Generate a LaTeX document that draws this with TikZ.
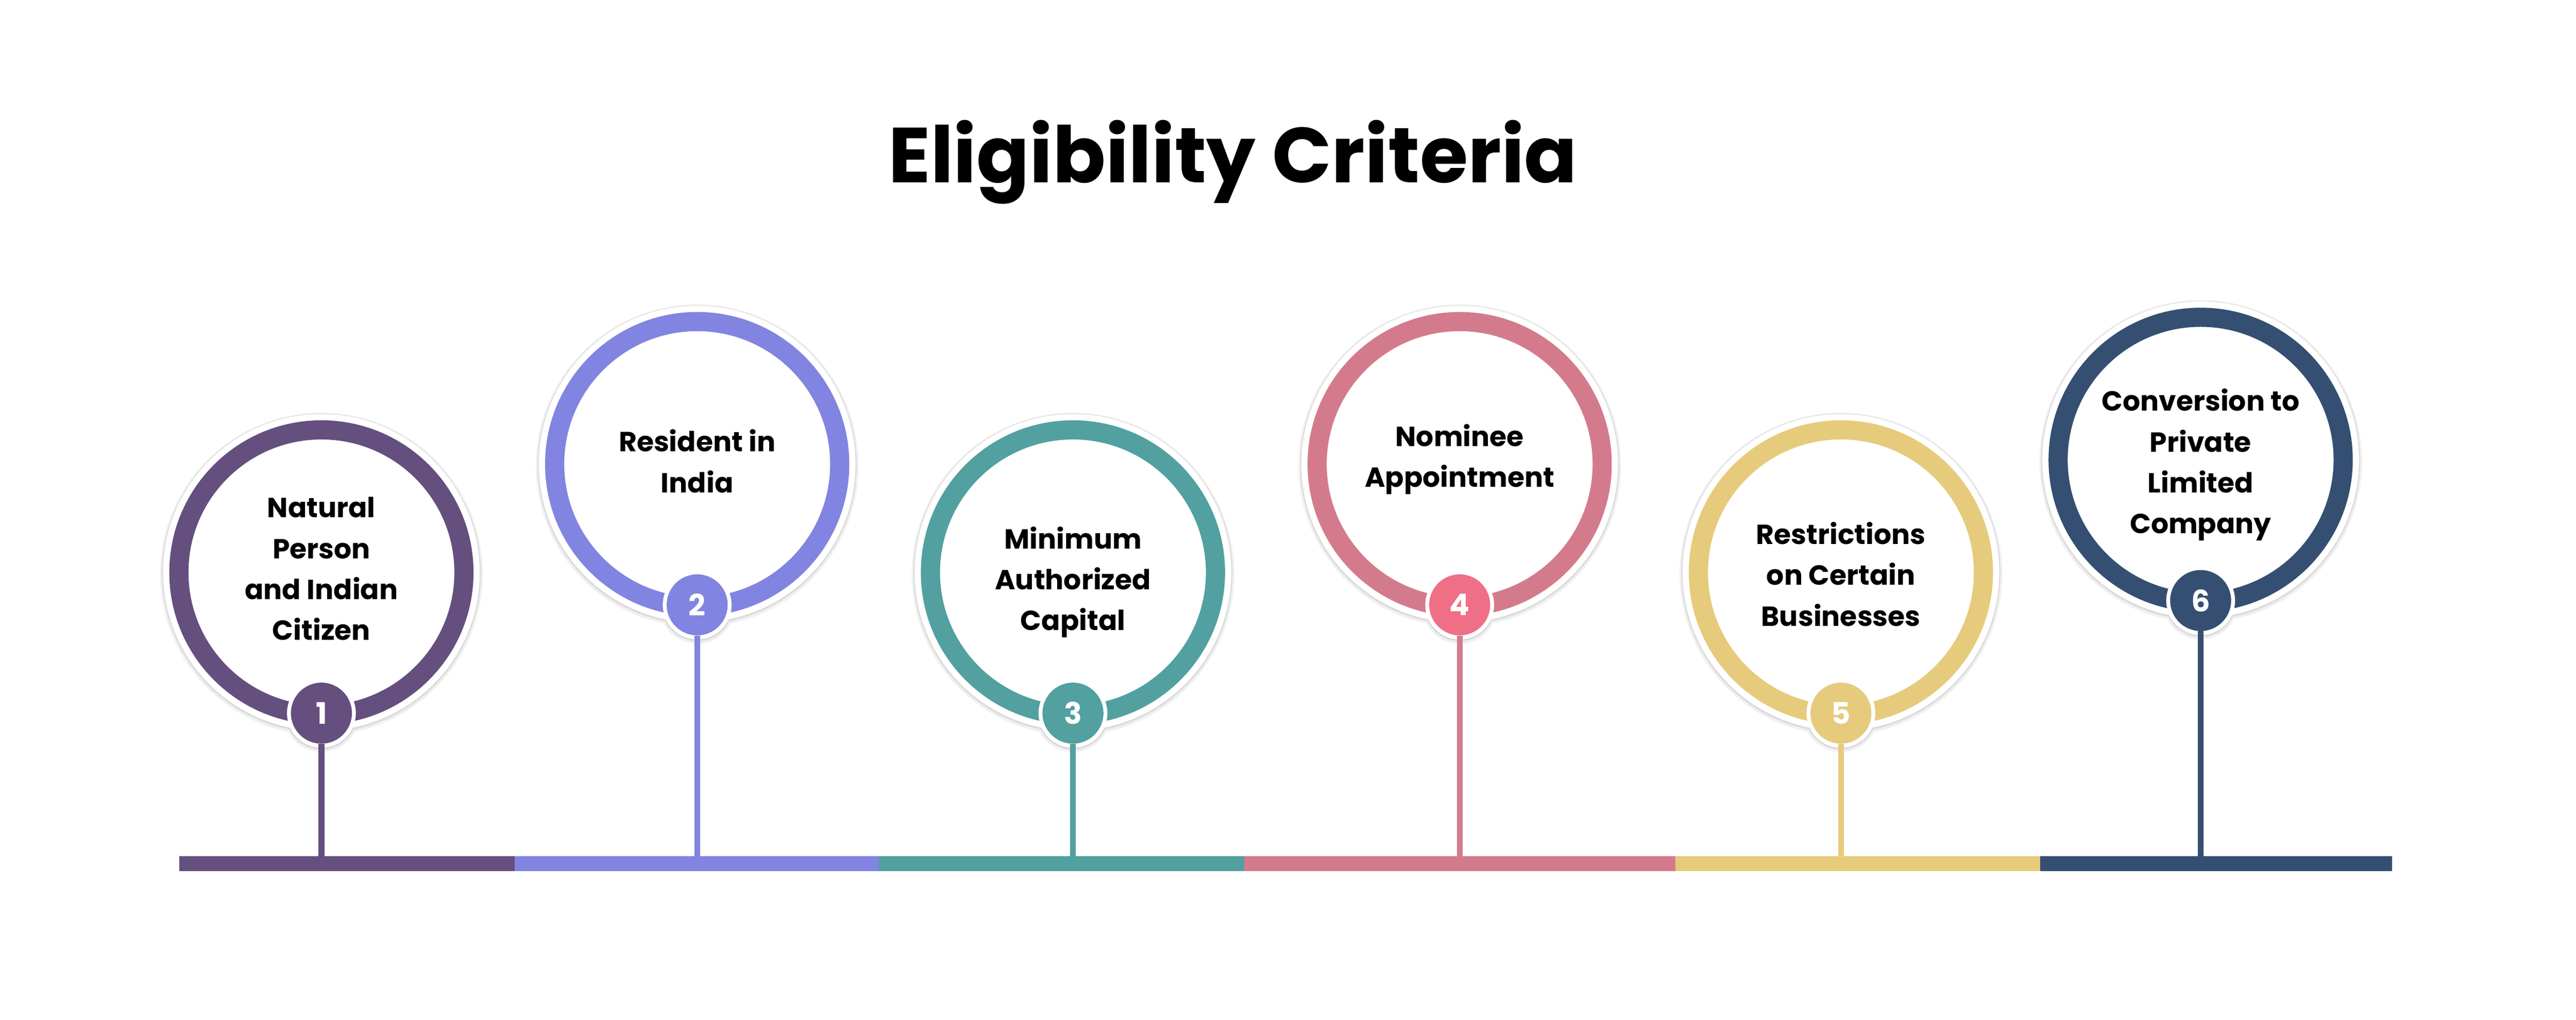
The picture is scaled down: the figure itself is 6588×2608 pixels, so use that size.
\documentclass[tikz,border=0pt]{standalone}
\usepackage{fontspec}
\setmainfont{Poppins}
\definecolor{cA}{HTML}{644F7F}
\definecolor{cB}{HTML}{8184E0}
\definecolor{cC}{HTML}{52A0A0}
\definecolor{cD}{HTML}{D37B8C}
\definecolor{cDb}{HTML}{EF6F86}
\definecolor{cE}{HTML}{E6CB7C}
\definecolor{cF}{HTML}{344F71}
\tikzset{
  ring/.style={circle, draw=#1, line width=4.9mm, minimum size=72.9mm, inner sep=0pt},
  badge/.style={circle, fill=#1, minimum size=15.6mm, inner sep=0pt, text=white,
    font=\bfseries\fontsize{21.6pt}{24pt}\selectfont},
  lbl/.style={align=center, inner sep=0pt, anchor=north,
    font=\bfseries\fontsize{20.1pt}{29.7pt}\selectfont},
  stem/.style={draw=#1, line width=1.5mm},
  barseg/.style={fill=#1},
  softshadow/.style={draw=black!6, line width=1.5mm},
  hardshadow/.style={draw=black!14, line width=0.6mm},
}
\newcommand\crit[7]{%
  \coordinate (c#5) at (#1,#2);
  \coordinate (s#5) at (#1,2190);
  \path[softshadow] (#1,#2+4) circle[radius=40.5mm] (#1,#2+364) circle[radius=8.8mm];
  \path[hardshadow] (#1,#2+2) circle[radius=40.5mm] (#1,#2+362) circle[radius=8.8mm];
  \fill[white] (#1,#2) circle[radius=40.5mm] (#1,#2+360) circle[radius=8.8mm];
  \node[ring=#3] (r#5) at (c#5) {};
  \fill[white] (#1,#2+360) circle[radius=8.8mm];
  \node[badge=#4] (b#5) at (#1,#2+360) {#5};
  \draw[stem=#3] (b#5) -- (s#5);
  \node[lbl] (t#5) at (#1,#7) {#6};
}
\begin{document}
\begin{tikzpicture}[x=0.1mm,y=-0.1mm]
\useasboundingbox[fill=white] (0,0) rectangle (6588,2608);
\node[anchor=base, inner sep=0pt, font=\bfseries\fontsize{56.8pt}{68pt}\selectfont] (title) at (3153,467) {Eligibility Criteria};
% bar
\fill[barseg=cA] (459,2190) rectangle (1316,2228);
\fill[barseg=cB] (1316,2190) rectangle (2248,2228);
\fill[barseg=cC] (2248,2190) rectangle (3182,2228);
\fill[barseg=cD] (3182,2190) rectangle (4285,2228);
\fill[barseg=cE] (4285,2190) rectangle (5218,2228);
\fill[barseg=cF] (5218,2190) rectangle (6118,2228);
% items
\crit{822}{1464}{cA}{cA}{1}{Natural\\Person\\and Indian\\Citizen}{1271}
\crit{1783}{1187}{cB}{cB}{2}{Resident in\\India}{1098}
\crit{2744}{1464}{cC}{cC}{3}{Minimum\\Authorized\\Capital}{1346}
\crit{3733}{1187}{cD}{cDb}{4}{Nominee\\Appointment}{1084}
\crit{4708}{1464}{cE}{cE}{5}{Restrictions\\on Certain\\Businesses}{1335}
\crit{5628}{1176}{cF}{cF}{6}{Conversion to\\Private\\Limited\\Company}{994}
\end{tikzpicture}
\end{document}
